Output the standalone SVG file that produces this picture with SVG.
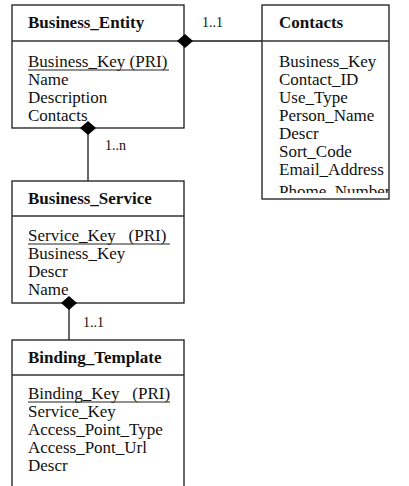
<svg xmlns="http://www.w3.org/2000/svg" width="409" height="486" viewBox="0 0 409 486">
  <style>
    .box { fill: #ffffff; stroke: #1a1a1a; stroke-width: 1.3; }
    .div { stroke: #333333; stroke-width: 1.4; }
    .link { stroke: #1a1a1a; stroke-width: 1.3; fill: none; }
    .dia { fill: #000000; }
    .title { font-family: "Liberation Serif", serif; font-size: 17px; font-weight: bold; fill: #111111; }
    .attr { font-family: "Liberation Serif", serif; font-size: 17px; fill: #111111; }
    .card { font-family: "Liberation Serif", serif; font-size: 14px; fill: #111111; }
    .ul { stroke: #222222; stroke-width: 1; }
  </style>
  <defs>
    <clipPath id="contactsClip">
      <rect x="262" y="42" width="127" height="151"/>
    </clipPath>
  </defs>
  <rect width="409" height="486" fill="#ffffff"/>

  <!-- relationships -->
  <g id="connectors">
    <line class="link" x1="185" y1="41" x2="262" y2="41"/>
    <line class="link" x1="88" y1="128" x2="88" y2="181"/>
    <line class="link" x1="69" y1="303" x2="69" y2="340"/>
    <text class="card" x="202" y="27">1..1</text>
    <text class="card" x="105" y="150">1..n</text>
    <text class="card" x="83" y="327">1..1</text>
  </g>

  <g id="business_entity">
    <rect class="box" x="12" y="5" width="172" height="123"/>
    <line class="div" x1="12" y1="41" x2="184" y2="41"/>
    <text class="title" x="28" y="28">Business_Entity</text>
    <text class="attr" x="28" y="67">Business_Key (PRI)</text>
    <line class="ul" x1="28" y1="70" x2="169" y2="70"/>
    <text class="attr" x="28" y="85">Name</text>
    <text class="attr" x="28" y="103">Description</text>
    <text class="attr" x="28" y="121">Contacts</text>
    <polygon class="dia" points="177,41 185,34 193,41 185,48"/>
    <polygon class="dia" points="80,128 88,121 96,128 88,135"/>
  </g>

  <g id="contacts">
    <rect class="box" x="262" y="5" width="127" height="194"/>
    <line class="div" x1="262" y1="41" x2="389" y2="41"/>
    <text class="title" x="279" y="28">Contacts</text>
    <g clip-path="url(#contactsClip)">
      <text class="attr" x="279" y="67">Business_Key</text>
      <text class="attr" x="279" y="85">Contact_ID</text>
      <text class="attr" x="279" y="103">Use_Type</text>
      <text class="attr" x="279" y="121">Person_Name</text>
      <text class="attr" x="279" y="139">Descr</text>
      <text class="attr" x="279" y="157">Sort_Code</text>
      <text class="attr" x="279" y="175">Email_Address</text>
      <text class="attr" x="279" y="197">Phome_Number</text>
    </g>
  </g>

  <g id="business_service">
    <rect class="box" x="12" y="181" width="172" height="122"/>
    <line class="div" x1="12" y1="216" x2="184" y2="216"/>
    <text class="title" x="28" y="204">Business_Service</text>
    <text class="attr" x="28" y="241" xml:space="preserve">Service_Key   (PRI)</text>
    <line class="ul" x1="28" y1="244" x2="170" y2="244"/>
    <text class="attr" x="28" y="259">Business_Key</text>
    <text class="attr" x="28" y="277">Descr</text>
    <text class="attr" x="28" y="295">Name</text>
    <polygon class="dia" points="61,303 69,296 77,303 69,310"/>
  </g>

  <g id="binding_template">
    <rect class="box" x="12" y="340" width="172" height="160"/>
    <line class="div" x1="12" y1="375" x2="184" y2="375"/>
    <text class="title" x="28" y="363">Binding_Template</text>
    <text class="attr" x="28" y="399" xml:space="preserve">Binding_Key   (PRI)</text>
    <line class="ul" x1="28" y1="402" x2="170" y2="402"/>
    <text class="attr" x="28" y="417">Service_Key</text>
    <text class="attr" x="28" y="435">Access_Point_Type</text>
    <text class="attr" x="28" y="453">Access_Pont_Url</text>
    <text class="attr" x="28" y="471">Descr</text>
  </g>
</svg>
